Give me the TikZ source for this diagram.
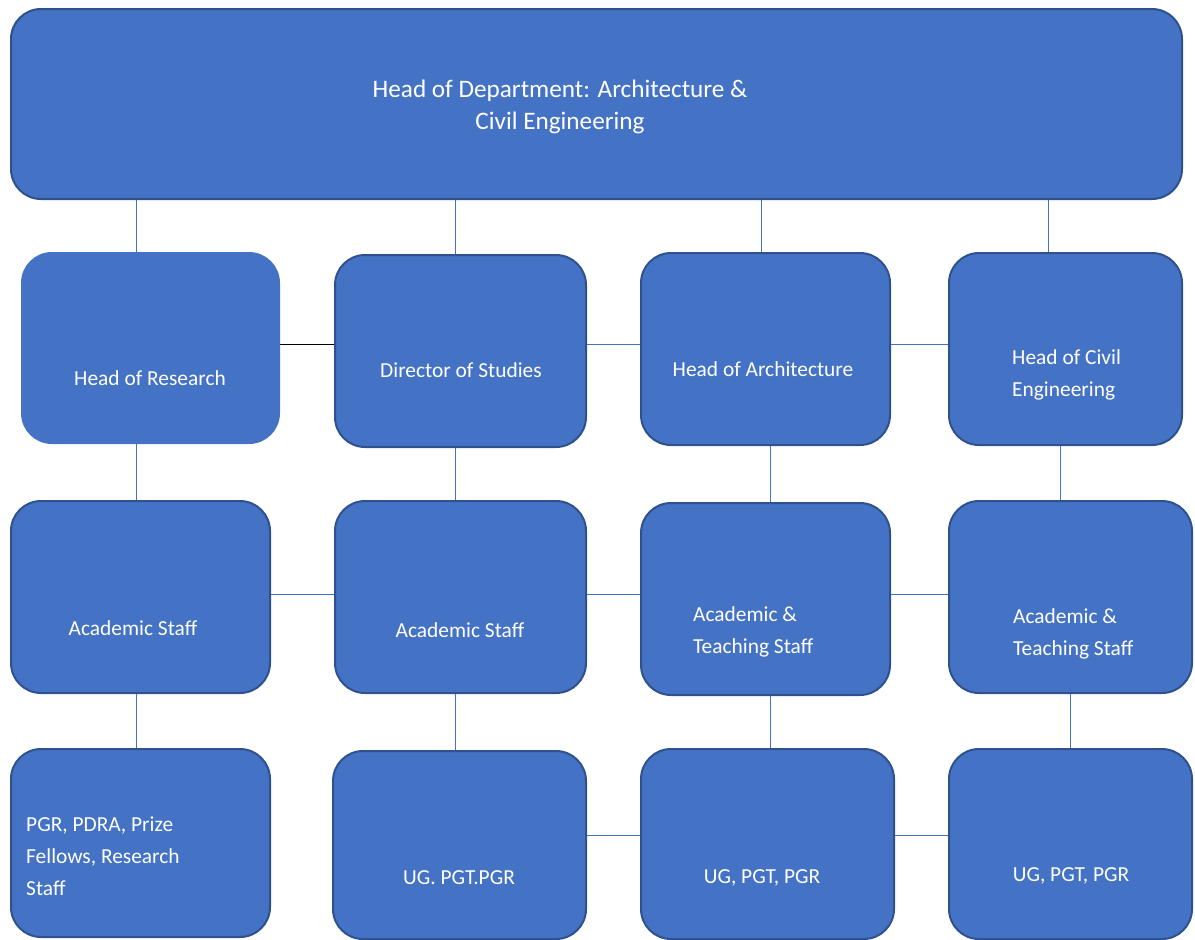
\documentclass[tikz,border=0pt]{standalone}
\usepackage{fontspec}
\setmainfont{Carlito}
\definecolor{boxblue}{HTML}{4472C4}
\definecolor{edgeblue}{HTML}{2F528F}
\tikzset{
  unit/.style={draw=edgeblue, line width=2pt, fill=boxblue, rounded corners=30pt, inner sep=0pt},
  boxtext/.style={text=white, font=\fontsize{21.4}{32}\selectfont, align=left, inner sep=0pt},
  link/.style={draw=boxblue, line width=1pt},
}
\begin{document}
\begin{tikzpicture}[x=1pt, y=-1pt]
        \useasboundingbox (0,0) rectangle (1195,940);

        % boxes
        \node[unit, minimum width=1171pt, minimum height=190pt] (head) at (596.5,104) {};
        \node[unit, draw=boxblue, minimum width=257pt, minimum height=190pt] (hor) at (150.5,348) {};
        \node[unit, minimum width=251pt, minimum height=192pt] (dos) at (460.5,351) {};
        \node[unit, minimum width=249pt, minimum height=192pt] (hoa) at (765.5,349) {};
        \node[unit, minimum width=233pt, minimum height=192pt] (hoce) at (1065.5,349) {};

        \node[unit, minimum width=259pt, minimum height=192pt] (acad1) at (140.5,597) {};
        \node[unit, minimum width=251pt, minimum height=192pt] (acad2) at (460.5,597) {};
        \node[unit, minimum width=249pt, minimum height=192pt] (acte1) at (765.5,599) {};
        \node[unit, minimum width=243pt, minimum height=192pt] (acte2) at (1070.5,597) {};

        \node[unit, minimum width=259pt, minimum height=188pt] (pgr) at (140.5,843) {};
        \node[unit, minimum width=253pt, minimum height=188pt] (ug1) at (459.5,845) {};
        \node[unit, minimum width=253pt, minimum height=190pt] (ug2) at (767.5,844) {};
        \node[unit, minimum width=243pt, minimum height=190pt] (ug3) at (1070.5,844) {};

        % texts
        \node[boxtext, align=center, font=\fontsize{25.2}{32}\selectfont] (headtxt) at (560,107) {Head of Department: Architecture \&\\Civil Engineering};
        \node[boxtext] (hortxt) at (150,378) {Head of Research};
        \node[boxtext] (dostxt) at (461,370) {Director of Studies};
        \node[boxtext] (hoatxt) at (763,369) {Head of Architecture};
        \node[boxtext, anchor=west] (hocetxt) at (1012,375) {Head of Civil\\Engineering};
        \node[boxtext] (acad1txt) at (133,628) {Academic Staff};
        \node[boxtext] (acad2txt) at (460,630) {Academic Staff};
        \node[boxtext, anchor=west] (acte1txt) at (693,632) {Academic \&\\Teaching Staff};
        \node[boxtext, anchor=west] (acte2txt) at (1013,634) {Academic \&\\Teaching Staff};
        \node[boxtext, anchor=west] (pgrtxt) at (26,856) {PGR, PDRA, Prize\\Fellows, Research\\Staff};
        \node[boxtext] (ug1txt) at (459,878) {UG. PGT.PGR};
        \node[boxtext] (ug2txt) at (762,878) {UG, PGT, PGR};
        \node[boxtext] (ug3txt) at (1071,876) {UG, PGT, PGR};

        % connectors
        \foreach \x/\a/\b in {136/head/hor, 455/head/dos, 761/head/hoa, 1048/head/hoce,
                136/hor/acad1, 455/dos/acad2, 770/hoa/acte1, 1060/hoce/acte2,
                136/acad1/pgr, 455/acad2/ug1, 770/acte1/ug2, 1070/acte2/ug3}
            \draw[link] (\x,0 |- \a.south) -- (\x,0 |- \b.north);
        \draw[line width=1pt, black] (hor.east |- 0,344) -- (dos.west |- 0,344);
        \foreach \y/\a/\b in {344/dos/hoa, 344/hoa/hoce,
                594/acad1/acad2, 594/acad2/acte1, 594/acte1/acte2,
                835/ug1/ug2, 835/ug2/ug3}
            \draw[link] (\a.east |- 0,\y) -- (\b.west |- 0,\y);
    \end{tikzpicture}
\end{document}
